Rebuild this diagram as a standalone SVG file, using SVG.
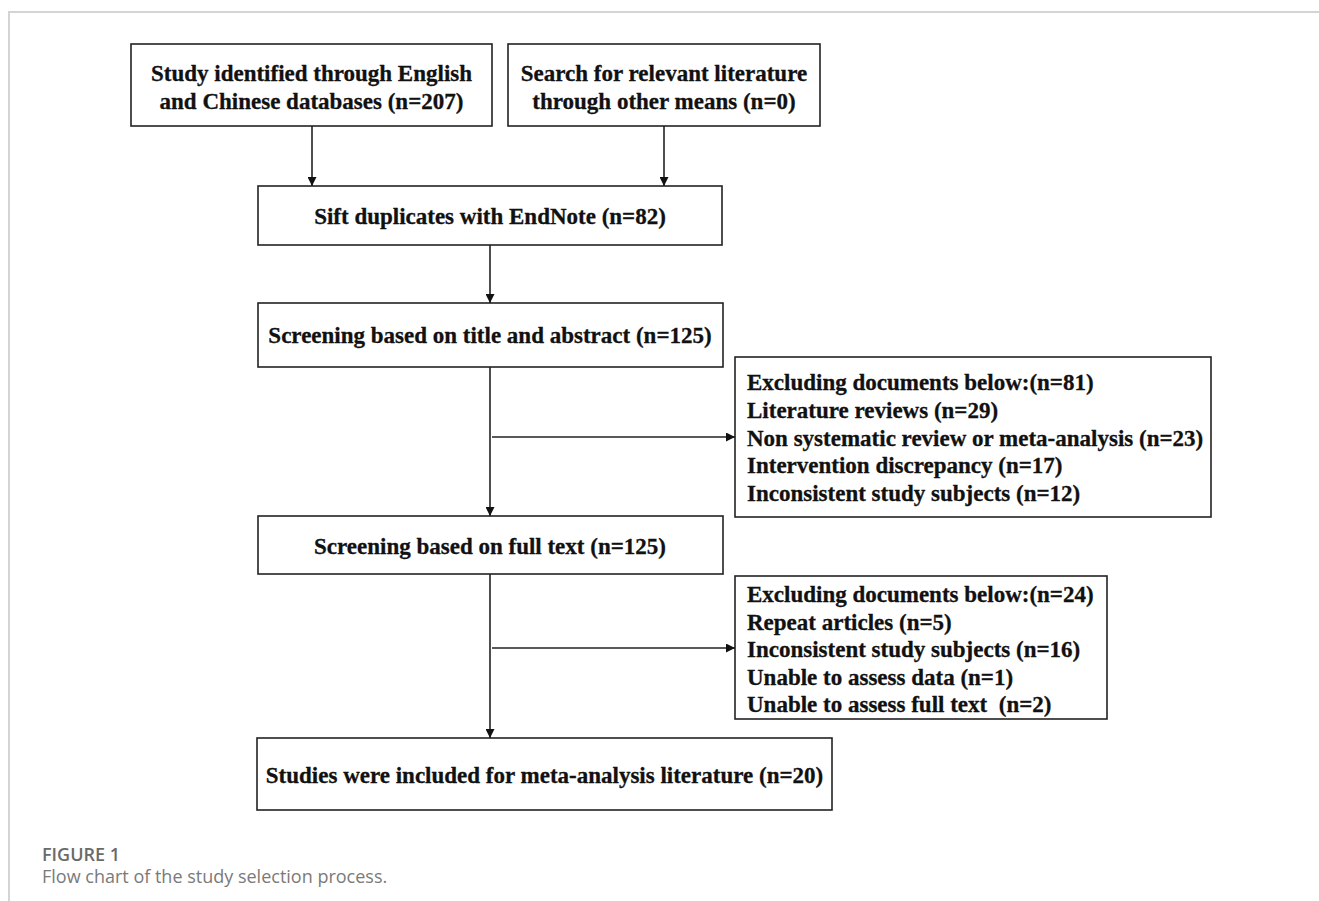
<svg xmlns="http://www.w3.org/2000/svg" width="1319" height="901" viewBox="0 0 1319 901">
<defs>
<style>
.box{fill:#fff;stroke:#222;stroke-width:1.6}
.t{font-family:"Liberation Serif","Times New Roman",serif;font-weight:bold;font-size:23px;fill:#111;stroke:#111;stroke-width:0.3}
.c{text-anchor:middle}
.line{stroke:#222;stroke-width:1.6;fill:none}
.frame{stroke:#d4d4d4;stroke-width:2;fill:none}
.cap1{font-family:"Open Sans","Noto Sans",sans-serif;font-weight:600;font-size:18px;fill:#6a6a6a}
.cap2{font-family:"Open Sans","Noto Sans",sans-serif;font-size:18px;fill:#7a7a7a}
</style>
<marker id="ah" viewBox="0 0 10 10" refX="10" refY="5" markerWidth="9" markerHeight="9" markerUnits="userSpaceOnUse" orient="auto">
<path d="M0,0 L10,5 L0,10 z" fill="#111"/>
</marker>
</defs>
<rect width="1319" height="901" fill="#fff"/>
<path class="frame" d="M9,901 L9,12 L1319,12"/>
<g id="n1"><rect class="box" x="131" y="44" width="361" height="82"/>
<text class="t c" x="311.5" y="81">Study identified through English</text>
<text class="t c" x="311.5" y="108.5">and Chinese databases (n=207)</text></g>
<g id="n2"><rect class="box" x="508" y="44" width="312" height="82"/>
<text class="t c" x="664" y="81">Search for relevant literature</text>
<text class="t c" x="664" y="108.5">through other means (n=0)</text></g>
<g id="n3"><rect class="box" x="258" y="186" width="464" height="59"/>
<text class="t c" x="490" y="224">Sift duplicates with EndNote (n=82)</text></g>
<g id="n4"><rect class="box" x="258" y="303" width="465" height="64"/>
<text class="t c" x="490" y="343">Screening based on title and abstract (n=125)</text></g>
<g id="n5"><rect class="box" x="258" y="516" width="465" height="58"/>
<text class="t c" x="490" y="554">Screening based on full text (n=125)</text></g>
<g id="n6"><rect class="box" x="735" y="357" width="476" height="160"/>
<text class="t" x="747" y="390">Excluding documents below:(n=81)</text>
<text class="t" x="747" y="417.5">Literature reviews (n=29)</text>
<text class="t" x="747" y="445.5">Non systematic review or meta-analysis (n=23)</text>
<text class="t" x="747" y="473">Intervention discrepancy (n=17)</text>
<text class="t" x="747" y="501">Inconsistent study subjects (n=12)</text></g>
<g id="n7"><rect class="box" x="735" y="576" width="372" height="143"/>
<text class="t" x="747" y="602">Excluding documents below:(n=24)</text>
<text class="t" x="747" y="629.5">Repeat articles (n=5)</text>
<text class="t" x="747" y="657">Inconsistent study subjects (n=16)</text>
<text class="t" x="747" y="684.5">Unable to assess data (n=1)</text>
<text class="t" x="747" y="712" xml:space="preserve">Unable to assess full text  (n=2)</text></g>
<g id="n8"><rect class="box" x="257" y="738" width="575" height="72"/>
<text class="t c" x="544.5" y="783">Studies were included for meta-analysis literature (n=20)</text></g>
<g id="connectors">
<line class="line" x1="312" y1="126" x2="312" y2="186" marker-end="url(#ah)"/>
<line class="line" x1="664" y1="126" x2="664" y2="186" marker-end="url(#ah)"/>
<line class="line" x1="490" y1="245" x2="490" y2="303" marker-end="url(#ah)"/>
<line class="line" x1="490" y1="367" x2="490" y2="516" marker-end="url(#ah)"/>
<line class="line" x1="492" y1="437" x2="735" y2="437" marker-end="url(#ah)"/>
<line class="line" x1="490" y1="574" x2="490" y2="738" marker-end="url(#ah)"/>
<line class="line" x1="492" y1="648" x2="735" y2="648" marker-end="url(#ah)"/>
</g>
<text class="cap1" x="42" y="861">FIGURE 1</text>
<text class="cap2" x="42" y="883">Flow chart of the study selection process.</text>
</svg>
